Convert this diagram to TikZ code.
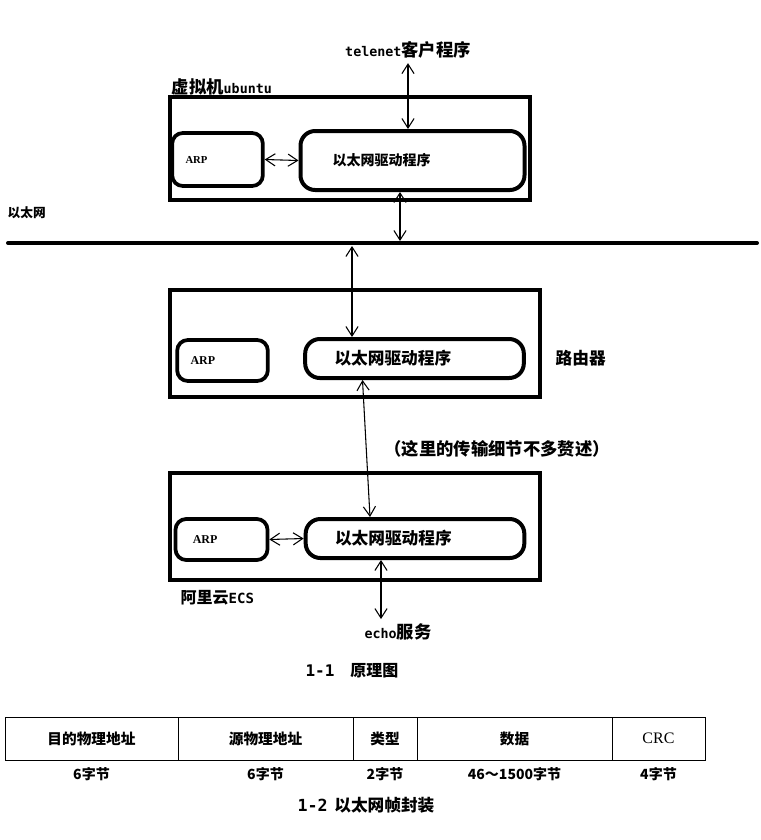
\documentclass[tikz,border=0pt]{standalone}
\usepackage{fontspec}
\setmainfont{Noto Sans CJK SC}
\setmonofont{DejaVu Sans Mono}
\newfontfamily\serif{Liberation Serif}
\usetikzlibrary{positioning,arrows.meta,calc}

\begin{document}
\begin{tikzpicture}[x=0.75pt,y=-0.75pt,>={Straight Barb[length=2.5mm,width=3.2mm]},
  outer/.style={draw,line width=2.8pt,inner sep=0pt},
  arpbox/.style={draw,line width=2.8pt,rounded corners=8pt,align=left,text width=48pt,inner xsep=10pt,font=\serif\bfseries\fontsize{9}{11}\selectfont},
  drvbox/.style={draw,line width=3pt,rounded corners=11pt,align=left,text width=120pt,inner xsep=24pt},
  link/.style={<->,thick},
  cell/.style={draw,line width=0.6pt,minimum height=32.25pt,inner sep=0pt,outer sep=0pt,font=\bfseries\fontsize{11}{13}\selectfont},
  bytes/.style={font=\bfseries\fontsize{10.5}{12}\selectfont}]
\useasboundingbox (0,0) rectangle (761,840);
% the three machines
\node[outer,minimum width=270pt,minimum height=77.25pt] (vm) at (350,148.5) {};
\node[outer,minimum width=277.5pt,minimum height=80.25pt] (router) at (355,343.5) {};
\node[outer,minimum width=277.5pt,minimum height=80.25pt] (ecs) at (355,526.5) {};
\node[anchor=west,font=\bfseries\fontsize{13}{15}\selectfont] (vmname) at (167,87) {虚拟机{\ttfamily\fontsize{10}{12}\selectfont ubuntu}};
\node[anchor=west,font=\bfseries\fontsize{12.5}{15}\selectfont] (routername) at (551,358) {路由器};
\node[anchor=west,font=\bfseries\fontsize{12}{14}\selectfont] (ecsname) at (176,598) {阿里云{\ttfamily\fontsize{10.5}{12}\selectfont ECS}};

\node[arpbox,minimum height=39.75pt,font=\serif\bfseries\fontsize{8}{10}\selectfont] (arp1) at (217.5,159.5) {ARP};
\node[arpbox,minimum height=30.75pt] (arp2) at (222.5,360.5) {ARP};
\node[arpbox,minimum height=30.75pt,inner xsep=13pt,text width=43pt] (arp3) at (221.5,539.5) {ARP};
\node[drvbox,minimum height=44.25pt,font=\bfseries\fontsize{10.5}{12}\selectfont] (drv1) at (412.5,160.5) {以太网驱动程序};
\node[drvbox,minimum height=29.25pt,font=\bfseries\fontsize{12.5}{14}\selectfont,inner xsep=22pt] (drv2) at (414.5,358.5) {以太网驱动程序};
\node[drvbox,minimum height=29.25pt,font=\bfseries\fontsize{12.5}{14}\selectfont,inner xsep=22pt] (drv3) at (415,538.5) {以太网驱动程序};

% programs
\node[font=\bfseries\fontsize{13}{15}\selectfont] (tel) at (408,50) {{\ttfamily\fontsize{10}{12}\selectfont telenet}客户程序};
\node[font=\bfseries\fontsize{13}{15}\selectfont] (echo) at (398,632) {{\ttfamily\fontsize{10}{12}\selectfont echo}服务};

% ethernet
\node[anchor=west,font=\bfseries\fontsize{9.5}{11}\selectfont] (ethname) at (3,213) {以太网};
\coordinate (ethL) at (8,243);
\coordinate (ethR) at (757,243);
\draw[line width=3pt,line cap=round] (ethL) -- (ethR);
\coordinate (eth1) at (400,241);
\coordinate (eth2) at (352,246);

% links
\draw[link] (tel.south) -- (tel.south |- drv1.north);
\draw[link] (arp1.east) -- (drv1.west);
\draw[link] (drv1.south -| eth1) -- (eth1);
\draw[link] (eth2) -- (drv2.north -| eth2);
\draw[link] ($(drv2.south)+(-52,0)$) -- ($(drv3.north)+(-45,0)$)
  node[midway,right=10pt,font=\bfseries\fontsize{13}{15}\selectfont] (note) {（这里的传输细节不多赘述）};
\draw[link] (arp3.east) -- (drv3.west);
\draw[link] ($(drv3.south)+(-34,0)$) -- ($(echo.north)+(-17,0)$);

\node[font=\bfseries\fontsize{12}{14}\selectfont] (cap1) at (352,671) {{\ttfamily 1-1}\quad 原理图};

% frame format
\node[cell,anchor=west,minimum width=129.75pt] (f1) at (5,738.5) {目的物理地址};
\node[cell,minimum width=131.25pt,right=0pt of f1] (f2) {源物理地址};
\node[cell,minimum width=48pt,right=0pt of f2] (f3) {类型};
\node[cell,minimum width=146.25pt,right=0pt of f3] (f4) {数据};
\node[cell,minimum width=69.75pt,right=0pt of f4,font=\serif\fontsize{12}{14}\selectfont] (f5) {CRC};
\node[bytes,below=2pt of f1] (b1) {6字节};
\node[bytes,below=2pt of f2] (b2) {6字节};
\node[bytes,below=2pt of f3] (b3) {2字节};
\node[bytes,below=2pt of f4] (b4) {46～1500字节};
\node[bytes,below=2pt of f5] (b5) {4字节};
\node[font=\bfseries\fontsize{12.5}{14}\selectfont] (cap2) at (366,805) {{\ttfamily 1-2}\, 以太网帧封装};
\end{tikzpicture}
\end{document}
